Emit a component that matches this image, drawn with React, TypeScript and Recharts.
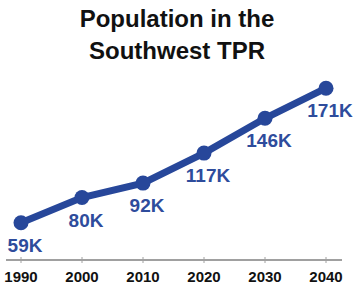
import { LineChart, Line, XAxis, YAxis, LabelList } from "recharts";

const years = ["1990", "2000", "2010", "2020", "2030", "2040"];
const population = [59, 80, 92, 117, 146, 171];
const labels = ["59K", "80K", "92K", "117K", "146K", "171K"];

const chartData = years.map((year, i) => ({
  year,
  pop: population[i],
  label: labels[i],
}));

const BLUE = "#27479a";

function YearTick(props: any) {
  const { x, y, payload } = props;
  return (
    <g>
      <line x1={x} y1={y - 3} x2={x} y2={y + 3} stroke="#a0a0a0" strokeWidth={1} />
      <text
        x={x}
        y={y + 22}
        textAnchor="middle"
        fontFamily="'Liberation Sans', Arial, sans-serif"
        fontWeight="bold"
        fontSize={15}
        fill="#111"
      >
        {payload.value}
      </text>
    </g>
  );
}

function ValueLabel(props: any) {
  const { x, y, value } = props;
  return (
    <text
      x={x + 4}
      y={y + 29}
      textAnchor="middle"
      fontFamily="'Liberation Sans', Arial, sans-serif"
      fontWeight="bold"
      fontSize={19}
      fill="#2e4c9c"
    >
      {value}
    </text>
  );
}

export default function App() {
  return (
    <div style={{ position: "fixed", left: 0, top: 0, width: 354, height: 285, background: "#fff" }}>
      <svg
        width={354}
        height={70}
        style={{ position: "absolute", left: 0, top: 0 }}
      >
        <text
          x={177}
          y={27}
          textAnchor="middle"
          fontFamily="'Liberation Sans', Arial, sans-serif"
          fontWeight="bold"
          fontSize={24}
          fill="#111"
        >
          Population in the
        </text>
        <text
          x={177}
          y={59}
          textAnchor="middle"
          fontFamily="'Liberation Sans', Arial, sans-serif"
          fontWeight="bold"
          fontSize={24}
          fill="#111"
        >
          Southwest TPR
        </text>
      </svg>
      <div style={{ position: "absolute", left: 0, top: 0 }}>
        <LineChart
          width={354}
          height={285}
          data={chartData}
          margin={{ top: 69, right: 12, bottom: 0, left: 6 }}
        >
          <XAxis
            dataKey="year"
            height={25}
            padding={{ left: 15, right: 16 }}
            axisLine={{ stroke: "#a0a0a0", strokeWidth: 2 }}
            tickLine={false}
            tickSize={0}
            tickMargin={0}
            tick={<YearTick />}
            interval={0}
          />
          <YAxis
            width={0}
            domain={[28, 187]}
            allowDataOverflow
            tick={false}
            tickLine={false}
            axisLine={{ stroke: "#a0a0a0", strokeWidth: 2 }}
          />
          <Line
            dataKey="pop"
            stroke={BLUE}
            strokeWidth={7}
            dot={{ r: 7.5, fill: BLUE, stroke: BLUE, strokeWidth: 0 }}
            activeDot={false}
            isAnimationActive={false}
          >
            <LabelList dataKey="label" content={<ValueLabel />} />
          </Line>
        </LineChart>
      </div>
    </div>
  );
}
